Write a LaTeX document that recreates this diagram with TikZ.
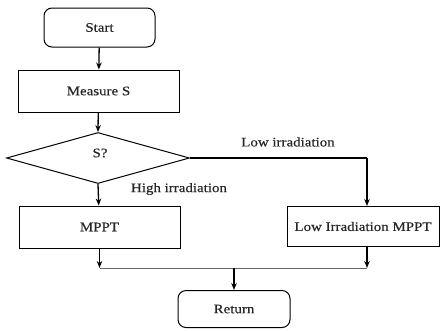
\documentclass[tikz,border=0pt]{standalone}
\usepackage{fontspec}
\setmainfont{Liberation Serif}[FakeStretch=1.15,FakeBold=0.4]
\usetikzlibrary{arrows.meta,shapes.geometric}
\begin{document}
\begin{tikzpicture}[x=1pt,y=-1pt,
  box/.style={draw,line width=1pt,minimum width=161pt,minimum height=42pt,inner sep=0pt},
  term/.style={draw,line width=1pt,rounded corners=8pt,inner sep=0pt},
  flow/.style={line width=1.3pt,-{Stealth[length=7pt,width=5.5pt]}},
  lbl/.style={font=\fontsize{13}{15}\selectfont,text=black!85}]
\useasboundingbox (0,0) rectangle (444,330);
\node[term,minimum width=111pt,minimum height=39pt,lbl] (start) at (99.5,27.5) {Start};
\node[box,lbl] (meas) at (98.5,91) {Measure S};
\node[draw,line width=1pt,diamond,aspect=3.7,minimum width=183pt,minimum height=51pt,inner sep=0pt,lbl] (dec) at (98,158) {};
\node[lbl] at (100,153) {S?};
\node[box,lbl] (mppt) at (99.5,227) {MPPT};
\node[box,minimum width=152pt,minimum height=40pt,lbl] (low) at (363,226.5) {Low Irradiation MPPT};
\node[term,minimum width=112pt,minimum height=37pt,lbl] (ret) at (234,309) {Return};
\coordinate (jl) at (mppt.south |- 0,268);
\coordinate (jr) at (367,268);
\coordinate (jm) at (234,268);
\coordinate (cr) at (367,158);
\draw[flow] (start) -- (meas);
\draw[flow] (meas) -- (dec.north);
\draw[flow] (dec.south) -- (mppt);
\draw[line width=1.3pt] (dec.east) -- (cr);
\draw[flow] (cr) -- (cr |- low.north);
\draw[flow] (mppt) -- (jl);
\draw[flow] (jr |- low.south) -- (jr);
\draw[line width=0.8pt,black!60] (jl) -- (jr);
\draw[flow] (jm) -- (ret);
\node[lbl] at (288,142) {Low irradiation};
\node[lbl] at (179,189) {High irradiation};
\end{tikzpicture}
\end{document}
